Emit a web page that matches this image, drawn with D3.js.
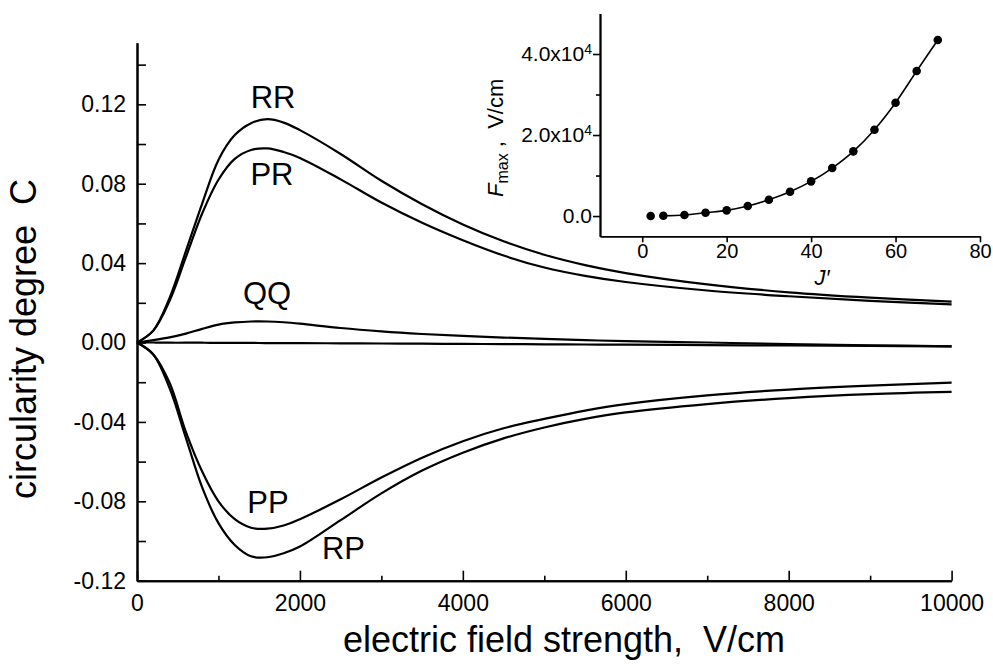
<!DOCTYPE html>
<html>
<head>
<meta charset="utf-8">
<script src="https://cdn.jsdelivr.net/npm/d3@7"></script>
<style>
	body { margin: 0; background: #fff; }
	text { font-family: "Liberation Sans", Arial, sans-serif; fill: #000; white-space: pre; }
</style>
</head>
<body>
<div id="root"></div>
<script>
// electric field strength, V/cm
const fieldStrength = [0, 200, 400, 600, 800, 1000, 1200, 1400, 1600, 1800, 2000, 2500, 3000, 3500, 4000, 4500, 5000, 5500, 6000, 7000, 8000, 9000, 10000];

// circularity degree C of each branch
const rrValues = [0, 0.006, 0.0225, 0.046, 0.070, 0.092, 0.1045, 0.1105, 0.1125, 0.1108, 0.107, 0.0950, 0.0815, 0.0697, 0.0595, 0.0510, 0.0442, 0.0390, 0.0350, 0.0293, 0.0253, 0.0226, 0.0206];
const prValues = [0, 0.006, 0.021, 0.043, 0.065, 0.082, 0.0925, 0.097, 0.0978, 0.096, 0.093, 0.0822, 0.0705, 0.0603, 0.0515, 0.0438, 0.0378, 0.0336, 0.0305, 0.0262, 0.0233, 0.0210, 0.0192];
const qqValues = [0, 0.0012, 0.0026, 0.0045, 0.0069, 0.0090, 0.0101, 0.0106, 0.0106, 0.0102, 0.0095, 0.0073, 0.0056, 0.0043, 0.0033, 0.0025, 0.0018, 0.0012, 0.0007, 0.0000, -0.0008, -0.0014, -0.0019];
const flatValues = [0, 0, -0.0001, -0.0001, -0.0001, -0.0002, -0.0002, -0.0002, -0.0003, -0.0003, -0.0003, -0.0004, -0.0005, -0.0006, -0.0007, -0.0008, -0.0009, -0.0010, -0.0011, -0.0013, -0.0015, -0.0017, -0.0019];
const ppValues = [0, -0.006, -0.0203, -0.045, -0.065, -0.080, -0.089, -0.0933, -0.0938, -0.0922, -0.0890, -0.0790, -0.0680, -0.0580, -0.0497, -0.0432, -0.0385, -0.0343, -0.0310, -0.0266, -0.0237, -0.0217, -0.0202];
const rpValues = [0, -0.006, -0.023, -0.048, -0.073, -0.091, -0.102, -0.1077, -0.1082, -0.1062, -0.1028, -0.0895, -0.0760, -0.0645, -0.0555, -0.0483, -0.0428, -0.0385, -0.0352, -0.0310, -0.0280, -0.0260, -0.0249];

const seriesNames = ["RR", "PR", "QQ", "", "PP", "RP"];
const seriesValues = [rrValues, prValues, qqValues, flatValues, ppValues, rpValues];

const xTicks = [0, 2000, 4000, 6000, 8000, 10000];
const xTickLabels = ["0", "2000", "4000", "6000", "8000", "10000"];
const xMinorTicks = [1000, 3000, 5000, 7000, 9000];
const yTicks = [-0.12, -0.08, -0.04, 0, 0.04, 0.08, 0.12];
const yTickLabels = ["-0.12", "-0.08", "-0.04", "0.00", "0.04", "0.08", "0.12"];
const yMinorTicks = [-0.10, -0.06, -0.02, 0.02, 0.06, 0.10, 0.14];

// inset: F_max versus J'
const jValues = [2, 5, 10, 15, 20, 25, 30, 35, 40, 45, 50, 55, 60, 65, 70];
const fMaxValues = [10, 60, 250, 820, 1400, 2470, 4030, 6010, 8560, 11850, 15970, 21320, 27980, 35800, 43460];
const insetXTicks = [0, 20, 40, 60, 80];
const insetYTicks = [0, 20000, 40000];
const insetYTickLabels = [["0.0", ""], ["2.0x10", "4"], ["4.0x10", "4"]];
const insetYMinorTicks = [10000, 30000];

const makeChart = () => {
	const svg = d3
				.select("#root")
					.append("svg")
						.attr("width", 993)
						.attr("height", 665);

	svg.append("rect").attr("width", 993).attr("height", 665).attr("fill", "#fff");

	renderMain(svg);
	renderInset(svg);
};

const styleAxis = (g, width) => {
	g.select(".domain").attr("stroke", "#000").attr("stroke-width", width);
	g.selectAll(".tick line").attr("stroke", "#000").attr("stroke-width", 1.6);
	g.attr("font-family", null).attr("font-size", null);
};

const renderMain = (svg) => {
	const x = d3.scaleLinear().domain([0, 10000]).range([137, 951.6]);
	const y = d3.scaleLinear().domain([-0.12, 0.151]).range([580.7, 42.8]);

	const xAxis = svg.append("g")
		.attr("transform", `translate(0, ${ y(-0.12) })`)
		.call(d3.axisBottom(x)
			.tickValues(xTicks)
			.tickFormat((d, i) => xTickLabels[i])
			.tickSize(-10)
			.tickSizeOuter(0)
			.tickPadding(14));
	styleAxis(xAxis, 2);
	xAxis.selectAll(".tick text").style("font-size", "23px");

	const xMinor = svg.append("g")
		.attr("transform", `translate(0, ${ y(-0.12) })`)
		.call(d3.axisBottom(x).tickValues(xMinorTicks).tickFormat("").tickSize(-5).tickSizeOuter(0));
	styleAxis(xMinor, 2);

	const yAxis = svg.append("g")
		.attr("transform", `translate(${ x(0) }, 0)`)
		.call(d3.axisLeft(y)
			.tickValues(yTicks)
			.tickFormat((d, i) => yTickLabels[i])
			.tickSize(-9)
			.tickSizeOuter(0)
			.tickPadding(11));
	styleAxis(yAxis, 2);
	yAxis.selectAll(".tick text").style("font-size", "23px");

	const yMinor = svg.append("g")
		.attr("transform", `translate(${ x(0) }, 0)`)
		.call(d3.axisLeft(y).tickValues(yMinorTicks).tickFormat("").tickSize(-9).tickSizeOuter(0));
	styleAxis(yMinor, 2);

	const line = d3.line()
		.x((d, i) => x(fieldStrength[i]))
		.y(d => y(d))
		.curve(d3.curveCatmullRom.alpha(0.5));

	svg.append("g")
		.selectAll(".curve")
		.data(seriesValues).enter()
		.append("path")
			.attr("class", "curve")
			.attr("d", line)
			.attr("fill", "none")
			.attr("stroke", "#000")
			.attr("stroke-width", 2.2)
			.attr("stroke-linejoin", "round");

	// curve names, anchored in data units
	const labelAnchors = [[1670, 0.1181], [1657, 0.0793], [1596, 0.0194], null, [1608, -0.0859], [2535, -0.1091]];
	svg.append("g")
		.selectAll(".curve-label")
		.data(seriesNames.map((name, i) => ({ name, at: labelAnchors[i] })).filter(d => d.at))
		.enter()
		.append("text")
			.attr("class", "curve-label")
			.attr("x", d => x(d.at[0]))
			.attr("y", d => y(d.at[1]))
			.attr("text-anchor", "middle")
			.style("font-size", "31px")
			.text(d => d.name);

	svg.append("text")
		.attr("x", 564)
		.attr("y", 652)
		.attr("text-anchor", "middle")
		.style("font-size", "36px")
		.text("electric field strength,  V/cm");

	svg.append("text")
		.attr("transform", "translate(36, 339) rotate(-90)")
		.attr("text-anchor", "middle")
		.style("font-size", "36px")
		.text("circularity degree  C");
};

const renderInset = (svg) => {
	const x = d3.scaleLinear().domain([-10, 80]).range([600, 980]);
	const y = d3.scaleLinear().domain([-5000, 50000]).range([236.3, 13.5]);

	const xAxis = svg.append("g")
		.attr("transform", `translate(0, ${ y(-5000) })`)
		.call(d3.axisBottom(x).tickValues(insetXTicks).tickSize(6).tickSizeOuter(0).tickPadding(2));
	styleAxis(xAxis, 1.8);
	xAxis.selectAll(".tick text").style("font-size", "20px");

	const yAxis = svg.append("g")
		.attr("transform", `translate(${ x(-10) }, 0)`)
		.call(d3.axisLeft(y).tickValues(insetYTicks).tickFormat("").tickSize(7).tickSizeOuter(0).tickPadding(1));
	styleAxis(yAxis, 1.8);
	yAxis.selectAll(".tick text")
		.style("font-size", "21px")
		.each(function (d, i) {
			const label = insetYTickLabels[i];
			const t = d3.select(this).text(label[0]);
			if (label[1]) {
				t.append("tspan").attr("dy", "-0.5em").style("font-size", "14px").text(label[1]);
			}
		});

	const yMinor = svg.append("g")
		.attr("transform", `translate(${ x(-10) }, 0)`)
		.call(d3.axisLeft(y).tickValues(insetYMinorTicks).tickFormat("").tickSize(4).tickSizeOuter(0));
	styleAxis(yMinor, 1.8);

	const line = d3.line()
		.x(d => x(d[0]))
		.y(d => y(d[1]))
		.curve(d3.curveMonotoneX);

	const points = jValues.map((j, i) => [j, fMaxValues[i]]);

	svg.append("path")
		.attr("d", line(points.slice(1)))
		.attr("fill", "none")
		.attr("stroke", "#000")
		.attr("stroke-width", 1.6);

	svg.append("g")
		.selectAll(".dot")
		.data(points).enter()
		.append("circle")
			.attr("class", "dot")
			.attr("cx", d => x(d[0]))
			.attr("cy", d => y(d[1]))
			.attr("r", 4.3)
			.attr("fill", "#000");

	const title = svg.append("text")
		.attr("transform", "translate(503, 197) rotate(-90)")
		.style("font-size", "22px");
	title.append("tspan").style("font-style", "italic").text("F");
	title.append("tspan").attr("dy", 5).style("font-size", "16px").text("max");
	title.append("tspan").attr("dy", -5).text(" ,  V/cm");

	svg.append("text")
		.attr("x", 822)
		.attr("y", 285)
		.attr("text-anchor", "middle")
		.style("font-size", "22px")
		.style("font-style", "italic")
		.text("J\u2032");
};

makeChart();
</script>
</body>
</html>
